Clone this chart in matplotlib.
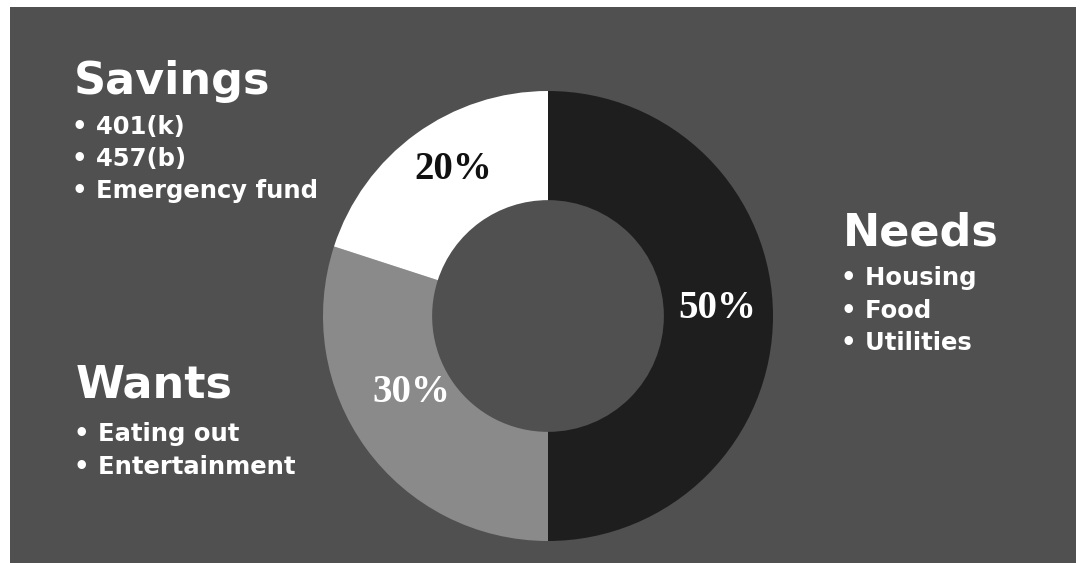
import matplotlib
matplotlib.use("Agg")
import matplotlib.pyplot as plt
from matplotlib.patches import Rectangle

# Data
categories = ["Needs", "Wants", "Savings"]
shares = [50, 30, 20]
slice_colors = ["#1e1e1e", "#8a8a8a", "#ffffff"]
label_colors = ["white", "white", "#111111"]
label_nudge = [(0.0, 0.035), (0.0, 0.10), (0.02, 0.045)]  # axes-unit offsets
items = {
    "Savings": ["401(k)", "457(b)", "Emergency fund"],
    "Needs": ["Housing", "Food", "Utilities"],
    "Wants": ["Eating out", "Entertainment"],
}

W, H = 1084, 563
BG = "#505050"
fig = plt.figure(figsize=(W / 100, H / 100), dpi=100)
fig.patch.set_facecolor("white")
fig.patches.append(Rectangle((10 / W, 0), (1076 - 10) / W, (H - 7) / H,
                             transform=fig.transFigure, facecolor=BG,
                             edgecolor="none", zorder=-10))

# Donut
cx, cy, r = 548, 316, 225
ax = fig.add_axes([(cx - r) / W, (H - cy - r) / H, 2 * r / W, 2 * r / H])
ax.set_zorder(5)
ax.set_facecolor("none")
wedges, texts, autotexts = ax.pie(
    shares, colors=slice_colors, startangle=90, counterclock=False,
    radius=1.0, wedgeprops=dict(width=0.485, edgecolor="none"),
    autopct="%d%%", pctdistance=0.75,
    textprops=dict(family="Liberation Serif", fontweight="bold", fontsize=28))
for t, c, (dx, dy) in zip(autotexts, label_colors, label_nudge):
    t.set_color(c)
    x, y = t.get_position()
    t.set_position((x + dx, y + dy))
ax.set_xlim(-1, 1)
ax.set_ylim(-1, 1)
ax.set_aspect("equal")
ax.axis("off")

# Side text
font = "DejaVu Sans"
def block(title, x, y_title, y_first, step):
    fig.text(x / W, 1 - y_title / H, title, fontsize=32, fontweight="bold",
             color="white", family=font, va="baseline", ha="left")
    for i, it in enumerate(items[title]):
        fig.text((x - 2) / W, 1 - (y_first + i * step) / H, "\u2022 " + it,
                 fontsize=17.5, fontweight="bold", color="white",
                 family=font, va="baseline", ha="left")

block("Savings", 74, 94, 134, 32)
block("Needs", 843, 246, 285, 32.5)
block("Wants", 76, 398, 441, 32.5)

fig.savefig("out.png", dpi=100, facecolor=fig.get_facecolor())
